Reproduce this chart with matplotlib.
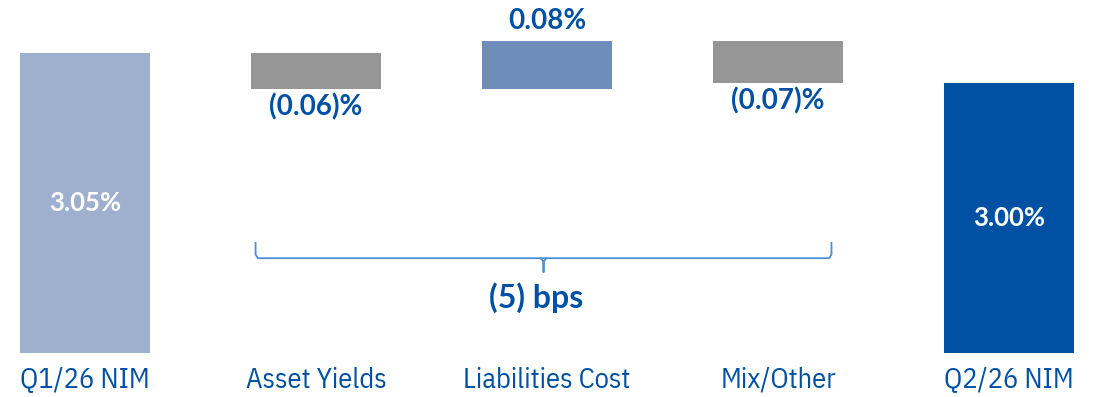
"""NIM walk Q1/26 -> Q2/26 waterfall."""
import numpy as np
import matplotlib.pyplot as plt

categories = ["Q1/26 NIM", "Asset Yields", "Liabilities Cost", "Mix/Other", "Q2/26 NIM"]
start_nim = 3.05
deltas = [-0.06, 0.08, -0.07]
end_nim = 3.00
delta_labels = ["(0.06)%", "0.08%", "(0.07)%"]
total_label = "(5) bps"
base = 2.55  # axis truncated, bars start here

BLUE = "#0050A4"
PALE = "#9EB0CD"
GREY = "#969696"
MID = "#6E8DB8"
BRACE = "#4A8FD2"

narrow = ["IBM Plex Sans Condensed", "DejaVu Sans"]
main = ["Lato", "DejaVu Sans"]

fig = plt.figure(figsize=(10.94, 3.97), dpi=100)
ax = fig.add_axes([0, 0, 1, 1])
x = np.arange(len(categories))
w = 0.563

# end bars
ax.bar(x[0], start_nim - base, bottom=base, width=w, color=PALE)
ax.bar(x[-1], end_nim - base, bottom=base, width=w, color=BLUE)
ax.text(x[0], (start_nim + base) / 2, f"{start_nim:.2f}%", color="white",
        ha="center", va="center", fontsize=18.5, fontweight="bold", family=main)
ax.text(x[-1], (end_nim + base) / 2, f"{end_nim:.2f}%", color="white",
        ha="center", va="center", fontsize=18.5, fontweight="bold", family=main)

# floating bars
level = start_nim
for i, (d, lab) in enumerate(zip(deltas, delta_labels), start=1):
    lo, hi = min(level, level + d), max(level, level + d)
    ax.bar(x[i], hi - lo, bottom=lo, width=w, color=MID if d > 0 else GREY)
    if d > 0:
        ax.text(x[i], hi + 0.012, lab, ha="center", va="bottom", color=BLUE,
                fontsize=20, fontweight="bold", family=main)
    else:
        ax.text(x[i], lo - 0.008, lab, ha="center", va="top", color=BLUE,
                fontsize=20, fontweight="bold", family=main)
    level += d

# brace under the middle bars
bl, br = x[1] - w / 2 + 0.02, x[3] + w / 2 - 0.05
bm = (x[1] + x[3]) / 2 - 0.015
ytop, yh, ytip = 2.735, 2.708, 2.685
ax.plot([bl, bl, bl + 0.01, br - 0.01, br, br], [ytop, yh + 0.006, yh, yh, yh + 0.006, ytop],
        color=BRACE, lw=1.3, solid_capstyle="butt")
ax.plot([bm - 0.012, bm, bm, bm, bm + 0.012], [yh, yh - 0.006, ytip, yh - 0.006, yh],
        color=BRACE, lw=1.3)
ax.text(bm - 0.03, 2.643, total_label, ha="center", va="center", color=BLUE,
        fontsize=23, fontweight="bold", family=main)

for xi, c in zip(x, categories):
    ax.text(xi, 2.505, c, ha="center", va="center", color=BLUE, fontsize=20.5, family=narrow)

ax.set_xlim(-0.368, 4.368)
ax.set_ylim(2.4767, 3.1383)
ax.axis("off")
fig.savefig("out.png", dpi=100)
